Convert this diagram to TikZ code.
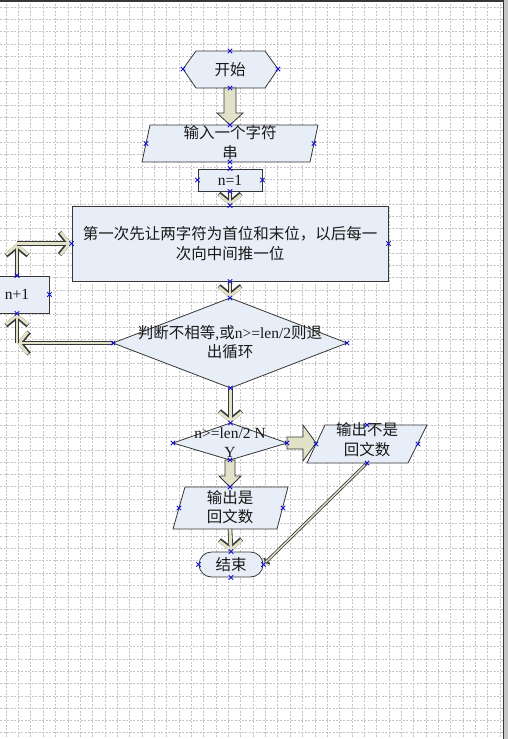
\documentclass[tikz,border=0pt]{standalone}
\usepackage{fontspec}
\setmainfont{Liberation Serif}
\newfontfamily\cjk{Noto Sans CJK SC}
\usetikzlibrary{arrows.meta}
\definecolor{shp}{RGB}{232,238,247}
\definecolor{kh}{RGB}{226,226,200}
\definecolor{dk}{RGB}{55,55,55}
\definecolor{gridc}{RGB}{196,196,196}
\definecolor{cpb}{RGB}{20,20,210}
\begin{document}
\begin{tikzpicture}[x=1pt,y=-1pt,
  shp/.style={draw=dk, fill=shp, line width=0.8pt},
  lbl/.style={font=\cjk\fontsize{15.5}{19.5}\selectfont, align=center, inner sep=0pt, text=black!90},
  blockarrow/.style={draw=dk, fill=kh, line width=0.8pt, line join=miter},
  conn/.style={draw=dk, line width=4.6pt, -{Straight Barb[length=9pt,width=22pt]},
    postaction={draw=kh, line width=2.9pt, -{Straight Barb[length=9pt,width=22pt]}}},
  thinconn/.style={draw=dk, line width=3pt, -{Straight Barb[length=3pt,width=8pt]},
    postaction={draw=kh, line width=1.4pt, -{Straight Barb[length=3pt,width=8pt]}}},
  cp/.style={draw=cpb, line width=0.9pt},
  gridl/.style={draw=gridc, line width=0.5pt, dash pattern=on 2pt off 1.5pt}]
\useasboundingbox (0,0) rectangle (508,739);
\clip (0,0) rectangle (508,739);
% background grid
\fill[white] (0,0) rectangle (508,739);
\foreach \i in {0,...,41} \draw[gridl] ({6+12.35*\i},0) -- ({6+12.35*\i},739);
\foreach \j in {0,...,60} \draw[gridl] (0,{7+12.3*\j}) -- (508,{7+12.3*\j});
\fill[dk] (0,0) rectangle (508,2);
\fill[gray!45] (503,0) rectangle (508,739);
\draw[dk, line width=1pt] (503.5,0) -- (503.5,739);

% connection point coordinates
\coordinate (stN) at (230,51);  \coordinate (stW) at (183,69);
\coordinate (stE) at (278,69);  \coordinate (stS) at (230,88);
\coordinate (inN) at (230,125); \coordinate (inW) at (146,143.5);
\coordinate (inE) at (314,143.5); \coordinate (inS) at (230,162);
\coordinate (d1N) at (230,298); \coordinate (d1W) at (113,343);
\coordinate (d1E) at (347,343); \coordinate (d1S) at (230.5,388);
\coordinate (d2N) at (230.5,423); \coordinate (d2W) at (173,443);
\coordinate (d2E) at (287,443); \coordinate (d2S) at (230,460);
\coordinate (onN) at (367,425); \coordinate (onW) at (316,444);
\coordinate (onE) at (418,444); \coordinate (onS) at (367,463);
\coordinate (oyN) at (230,487); \coordinate (oyW) at (179,508);
\coordinate (oyE) at (283,508); \coordinate (oyS) at (230,529);
\coordinate (c1) at (17,243.5);
\coordinate (c2) at (17,343);

% start
\path[shp] (183,69) -- (196,51) -- (265,51) -- (278,69) -- (265,88) -- (196,88) -- cycle;
\node[lbl] (start) at (230,69.5) {开始};
% block arrow start -> input
\path[blockarrow] (224,88) -- (236,88) -- (236,113) -- (243,113) -- (230,125) -- (217,113) -- (224,113) -- cycle;
% input
\path[shp] (150,125) -- (318,125) -- (310,162) -- (142,162) -- cycle;
\node[lbl] (input) at (230,142.5) {输入一个字符\\串};
% n=1
\node[shp, lbl, minimum width=64pt, minimum height=22pt] (n1) at (230,180) {\rmfamily n=1};
% main box
\node[shp, lbl, minimum width=316pt, minimum height=75pt] (box) at (230,243.5) {第一次先让两字符为首位和末位，以后每一\\次向中间推一位};
\draw[conn] (n1.south) -- (box.north);
% diamond 1
\path[shp] (d1N) -- (d1E) -- (d1S) -- (d1W) -- cycle;
\node[lbl] (dec1) at (230,342) {判断不相等{\rmfamily ,}或{\rmfamily n>=len/2}则退\\出循环};
\draw[conn] (box.south) -- (d1N);
% n+1
\node[shp, lbl, minimum width=64pt, minimum height=37pt] (np1) at (17,294.5) {\rmfamily n+1};
\draw[conn] (d1W) -- (c2);
\draw[conn] (c2) -- (np1.south);
\draw[conn] (np1.north) -- (c1);
\draw[conn] (c1) -- (box.west);
% diamond 2
\draw[conn] (d1S) -- (d2N);
\path[shp] (d2N) -- (d2E) -- (d2S) -- (d2W) -- cycle;
\node[lbl, font=\rmfamily\fontsize{15.5}{19}\selectfont] (dec2) at (230,442.5) {n>=len/2 N\\Y};
% block arrow right
\path[blockarrow] (287,437) -- (303,437) -- (303,425) -- (316,443) -- (303,461) -- (303,449) -- (287,449) -- cycle;
% output not
\path[shp] (325,425) -- (427,425) -- (408,463) -- (307,463) -- cycle;
\node[lbl] (outno) at (367,439.5) {输出不是\\回文数};
% block arrow down
\path[blockarrow] (225,460) -- (235,460) -- (235,476) -- (241,476) -- (230,487) -- (219,476) -- (225,476) -- cycle;
% output yes
\path[shp] (185,487) -- (288,487) -- (277,529) -- (173,529) -- cycle;
\node[lbl] (outyes) at (230,507) {输出是\\回文数};
% end
\node[shp, lbl, rounded corners=12.5pt, minimum width=64pt, minimum height=25pt] (end) at (231,564.5) {结束};
\draw[conn] (oyS) -- (end.north);
\draw[thinconn] (onS) -- (end.east);

% connection point marks
\foreach \c in {stN,stW,stE,stS,inN,inW,inE,inS,n1.north,n1.west,n1.east,n1.south,
  box.north,box.west,box.east,box.south,np1.north,np1.east,np1.south,
  d1N,d1W,d1E,d1S,d2N,d2W,d2E,d2S,onN,onW,onE,onS,oyN,oyW,oyE,
  end.north,end.west,end.east,end.south}
  \draw[cp] (\c) ++(-2.2,-2.2) -- ++(4.4,4.4) (\c) ++(-2.2,2.2) -- ++(4.4,-4.4);
\end{tikzpicture}
\end{document}
